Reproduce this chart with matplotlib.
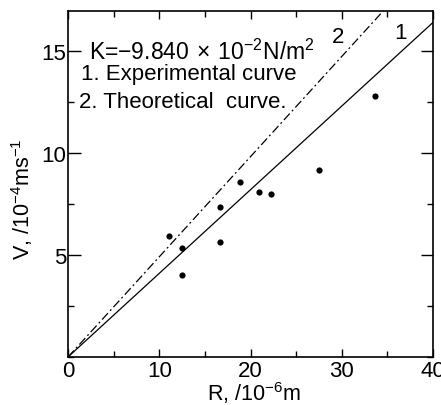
import matplotlib
matplotlib.use("Agg")
import matplotlib.pyplot as plt
from matplotlib.ticker import MultipleLocator

plt.rcParams['font.family'] = ['Liberation Sans', 'DejaVu Sans']
plt.rcParams['mathtext.fontset'] = 'custom'
plt.rcParams['mathtext.rm'] = 'Liberation Sans'

# data
R_exp = [11.1, 12.5, 12.45, 16.7, 16.7, 18.9, 20.9, 22.3, 27.5, 33.6]
V_exp = [5.92, 5.33, 4.02, 7.37, 5.64, 8.58, 8.09, 7.97, 9.17, 12.8]
R_line = [0, 40]
V_line1 = [0, 16.4]
V_line2 = [0, 19.64]

fig = plt.figure(figsize=(4.41, 4.06), dpi=100)
ax = fig.add_axes([68/441, 1 - 358/406, (433-68)/441, (358-12)/406])

ax.plot(R_line, V_line1, color='black', lw=0.9)
ax.plot(R_line, V_line2, color='black', lw=0.9, dashes=(7, 2.5, 1.5, 2.5))
ax.scatter(R_exp, V_exp, s=20, color='black', zorder=3, linewidths=0)

ax.set_xlim(0, 40)
ax.set_ylim(0, 16.96)
ax.xaxis.set_major_locator(MultipleLocator(10))
ax.xaxis.set_minor_locator(MultipleLocator(5))
ax.yaxis.set_minor_locator(MultipleLocator(2.5))
ax.set_yticks([5, 10, 15])
ax.tick_params(which='both', direction='in', top=True, right=True, labelsize=16, width=1)
ax.tick_params(axis='y', which='major', length=9, pad=1)
ax.tick_params(axis='x', which='major', length=6, pad=2)
ax.tick_params(which='minor', length=4)
for s in ax.spines.values():
    s.set_linewidth(1.2)

ax.text(2.3, 15.0, r'K=$-$9.840$\,\times\,$10$^{-2}$N/m$^{2}$', fontsize=16.5, va='center')
ax.text(1.4, 13.9, '1. Experimental curve', fontsize=16, va='center')
ax.text(1.2, 12.5, '2. Theoretical  curve.', fontsize=16, va='center')
ax.text(29.6, 15.7, '2', fontsize=16, va='center', ha='center')
ax.text(36.4, 15.9, '1', fontsize=16, va='center', ha='center')

ax.set_xlabel(r'R, /10$^{-6}$m', fontsize=15.5)
ax.xaxis.set_label_coords(0.51, -22/346)
ax.set_ylabel(r'V, /10$^{-4}$ms$^{-1}$', fontsize=15.5)
ax.yaxis.set_label_coords(-33/365, 0.46)

fig.savefig('out.png', dpi=100)
